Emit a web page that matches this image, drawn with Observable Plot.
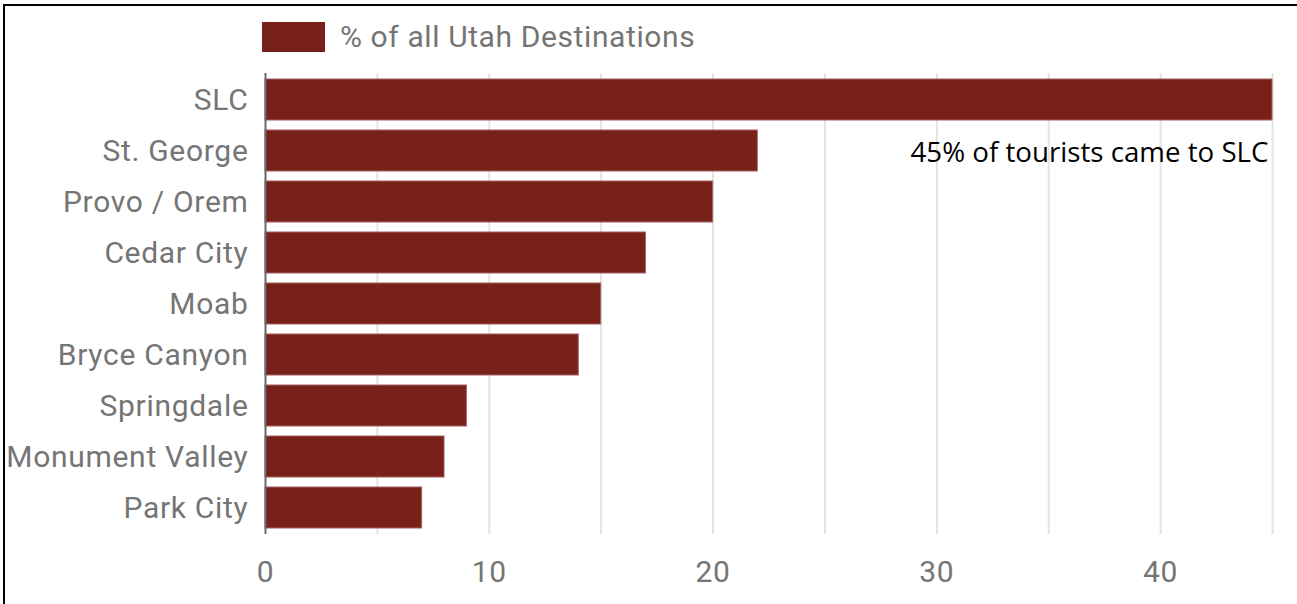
<!DOCTYPE html>
<html>
<head>
<meta charset="utf-8">
<script src="https://cdn.jsdelivr.net/npm/d3@7"></script>
<script src="https://cdn.jsdelivr.net/npm/@observablehq/plot@0.6"></script>
<style>
  html, body { margin: 0; padding: 0; background: #fff; }
  #wrap { position: relative; width: 1297px; height: 604px; overflow: hidden; }
  #frame { position: absolute; left: 3px; top: 4px; width: 1300px; height: 620px; border-left: 2px solid #000; border-top: 2px solid #000; box-sizing: border-box; pointer-events: none; }
  #legend { position: absolute; left: 262px; top: 19px; display: flex; align-items: center; font-family: Roboto, sans-serif; font-size: 30px; letter-spacing: 0.6px; color: #757575; }
  #legend .sw { width: 63px; height: 30px; background: #78201a; margin-right: 15px; }
  .annot { letter-spacing: 0px; }
</style>
</head>
<body>
<div id="wrap">
  <div id="legend"><span class="sw"></span><span id="legendText"></span></div>
  <div id="chart"></div>
  <div id="frame"></div>
</div>
<script>
const categories = ["SLC", "St. George", "Provo / Orem", "Cedar City", "Moab", "Bryce Canyon", "Springdale", "Monument Valley", "Park City"];
const values = [45, 22, 20, 17, 15, 14, 9, 8, 7];
const xTicks = [0, 10, 20, 30, 40];
const gridTicks = [5, 10, 15, 20, 25, 30, 35, 40, 45];
const seriesName = "% of all Utah Destinations";
const annotations = [{label: "45% of tourists came to SLC", x: 45, y: "St. George"}];

document.getElementById("legendText").textContent = seriesName;

const data = categories.map((c, i) => ({city: c, value: values[i]}));

const chart = Plot.plot({
  width: 1297,
  height: 604,
  marginLeft: 265,
  marginRight: 25,
  marginTop: 73,
  marginBottom: 70,
  style: {fontFamily: "Roboto, sans-serif", fontSize: "30px", letterSpacing: "0.7px", color: "#757575", background: "transparent"},
  x: {domain: [0, 45], ticks: xTicks, tickSize: 0, tickPadding: 26, label: null},
  y: {domain: categories, paddingInner: 0.2, paddingOuter: 0.1, tickSize: 0, tickPadding: 17, label: null},
  marks: [
    Plot.ruleX(gridTicks, {stroke: "#e3e3e3", strokeWidth: 2, strokeOpacity: 1}),
    Plot.barX(data, {x: "value", y: "city", fill: "#78201a", stroke: "#a5605a", strokeWidth: 1}),
    Plot.ruleX([0], {stroke: "#6b6b6b", strokeWidth: 2}),
    Plot.text(annotations, {x: "x", y: "y", text: "label", textAnchor: "end", dx: -4, dy: 2, fill: "#000", fontSize: 27.7, fontFamily: "'Open Sans', sans-serif", className: "annot"})
  ]
});
document.getElementById("chart").appendChild(chart);
</script>
</body>
</html>
